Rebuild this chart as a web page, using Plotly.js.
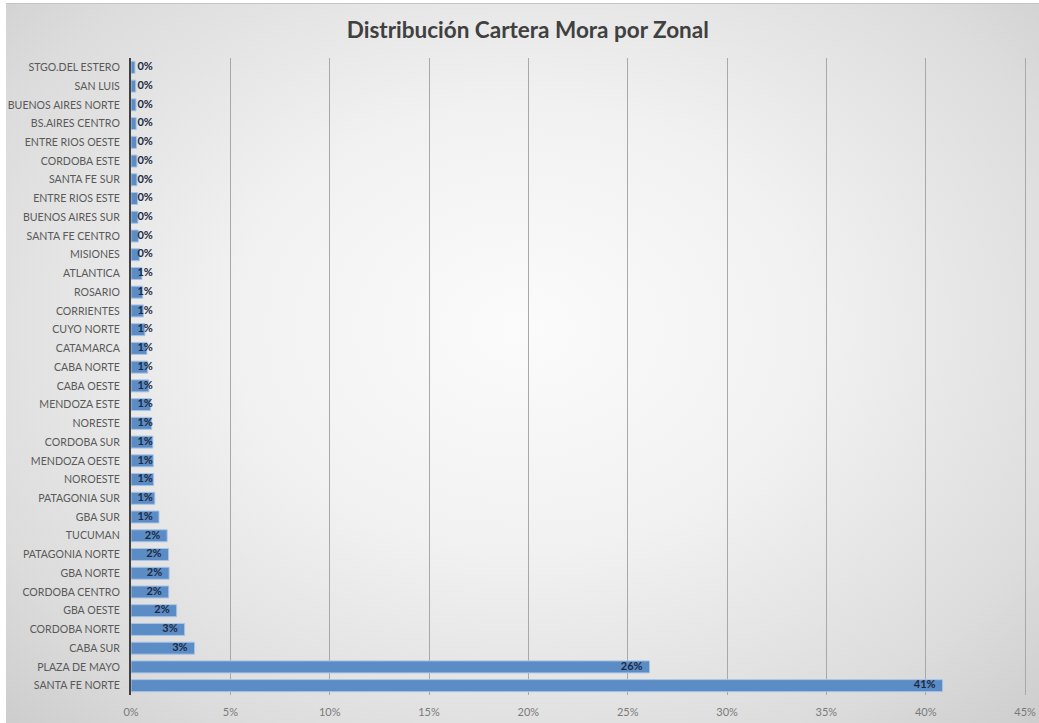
<!DOCTYPE html>
<html>
<head>
<meta charset="utf-8">
<script src="https://cdn.plot.ly/plotly-3.0.1.min.js"></script>
<style>
  html, body { margin: 0; padding: 0; background: #ffffff; }
  #wrap { position: absolute; left: 6px; top: 3px; width: 1033px; height: 720px;
          background: radial-gradient(ellipse at 50% 45%, #fbfbfb 0%, #f1f1f1 40%, #dcdcdc 80%, #cdcdcd 100%);
          border-top: 1px solid #c4c4c4; }
  #chart { width: 1039px; height: 723px; position: absolute; left: -6px; top: -4px; }
</style>
</head>
<body>
<div id="wrap"><div id="chart"></div></div>
<script>
// Categories top-to-bottom as shown
const zonales = [
  "STGO.DEL ESTERO", "SAN LUIS", "BUENOS AIRES NORTE", "BS.AIRES CENTRO", "ENTRE RIOS OESTE",
  "CORDOBA ESTE", "SANTA FE SUR", "ENTRE RIOS ESTE", "BUENOS AIRES SUR", "SANTA FE CENTRO",
  "MISIONES", "ATLANTICA", "ROSARIO", "CORRIENTES", "CUYO NORTE", "CATAMARCA", "CABA NORTE",
  "CABA OESTE", "MENDOZA ESTE", "NORESTE", "CORDOBA SUR", "MENDOZA OESTE", "NOROESTE",
  "PATAGONIA SUR", "GBA SUR", "TUCUMAN", "PATAGONIA NORTE", "GBA NORTE", "CORDOBA CENTRO",
  "GBA OESTE", "CORDOBA NORTE", "CABA SUR", "PLAZA DE MAYO", "SANTA FE NORTE"
];
// Share of delinquent portfolio (%)
const participacion = [
  0.20, 0.24, 0.25, 0.26, 0.28,
  0.30, 0.30, 0.33, 0.35, 0.37,
  0.42, 0.55, 0.59, 0.62, 0.70, 0.80, 0.84,
  0.90, 0.99, 1.04, 1.10, 1.12, 1.14,
  1.20, 1.41, 1.82, 1.89, 1.92, 1.90,
  2.30, 2.70, 3.20, 26.10, 40.85
];
const tickVals = [0, 5, 10, 15, 20, 25, 30, 35, 40, 45];
const tickText = ["0%", "5%", "10%", "15%", "20%", "25%", "30%", "35%", "40%", "45%"];

const labels = participacion.map(v => Math.round(v) + "%");
// label anchored at bar end (inside), but never before a minimum offset from the axis
const labelX = participacion.map(v => Math.max(v - 0.35, 1.1));

const FONT = "Lato, 'Open Sans', sans-serif";

const barTrace = {
  type: "bar", orientation: "h",
  y: zonales, x: participacion,
  marker: { color: "#5b8cc6", line: { color: "#a9c4e6", width: 1 } },
  hoverinfo: "skip"
};
const textTrace = {
  type: "scatter", mode: "text",
  y: zonales, x: labelX, text: labels,
  textposition: "middle left",
  textfont: { family: FONT, size: 11, color: "#1b2a3e", weight: 700 },
  cliponaxis: false, hoverinfo: "skip"
};

const layout = {
  width: 1039, height: 723,
  paper_bgcolor: "rgba(0,0,0,0)", plot_bgcolor: "rgba(0,0,0,0)",
  margin: { l: 131, r: 8, t: 58, b: 28 },
  showlegend: false,
  bargap: 0.36,
  title: {
    text: "Distribución Cartera Mora por Zonal",
    font: { family: FONT, size: 22.5, color: "#404040", weight: 700 },
    x: 0.508, xanchor: "center", y: 0.958, yanchor: "middle"
  },
  xaxis: {
    range: [0, 45.3], tickvals: tickVals, ticktext: tickText,
    showgrid: true, gridcolor: "#a8a8a8", gridwidth: 1,
    zeroline: false, showline: false, ticks: "",
    tickfont: { family: FONT, size: 11, color: "#7a7a7a" },
    ticklabelstandoff: 9,
    fixedrange: true
  },
  yaxis: {
    categoryorder: "array", categoryarray: zonales.slice().reverse(),
    autorange: false, range: [-0.5, zonales.length - 0.5],
    showline: true, linecolor: "#404040", linewidth: 2,
    ticks: "", showgrid: false,
    tickfont: { family: FONT, size: 10.6, color: "#595959" },
    ticklabelstandoff: 7,
    fixedrange: true
  }
};

Plotly.newPlot("chart", [barTrace, textTrace], layout, { displayModeBar: false, staticPlot: true });
</script>
</body>
</html>
